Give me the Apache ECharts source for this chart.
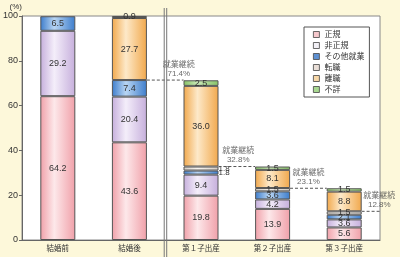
<!DOCTYPE html>
<html><head><meta charset="utf-8">
<script src="https://cdn.jsdelivr.net/npm/echarts@6/dist/echarts.min.js"></script>
<style>html,body{margin:0;padding:0;background:#fdf8da;}#c{width:400px;height:257px;}</style>
</head><body><div id="c"></div>
<script>
const categories = ['結婚前','結婚後','第１子出産','第２子出産','第３子出産'];
const seiki    = [64.2, 43.6, 19.8, 13.9, 5.6];
const hiseiki  = [29.2, 20.4, 9.4, 4.2, 3.6];
const sonota   = [6.5, 7.4, 1.8, 3.6, 2.1];
const tenshoku = [null, null, 1.8, 1.5, 1.5];
const rishoku  = [null, 27.7, 36.0, 8.1, 8.8];
const fusho    = [null, 0.9, 2.5, 1.5, 1.5];
const keizoku  = [71.4, 32.8, 23.1, 12.8];   // 就業継続 (after 結婚後, 第1子, 第2子, 第3子)
const yTicks   = [0, 20, 40, 60, 80, 100];

const chart = echarts.init(document.getElementById('c'), null, {renderer:'canvas'});
const FONT = 'Liberation Sans, Noto Sans CJK JP, sans-serif';
const BARW = 35;
const BAND = 72;
const half = (BARW/2)/BAND;

function grad(edge, mid){
  return new echarts.graphic.LinearGradient(0,0,1,0,[
    {offset:0,color:edge},{offset:0.4,color:mid},{offset:1,color:edge}]);
}
const styles = [
  {name:'正規', data:seiki, color:grad('#f0a0a9','#fde8ea'), icon:'#f6c8cc'},
  {name:'非正規', data:hiseiki, color:grad('#c6afdc','#f4eefa'), icon:'#f2f0f6'},
  {name:'その他就業', data:sonota, color:grad('#3d7dcc','#b8d5f3'), icon:'#5d90d2'},
  {name:'転職', data:tenshoku, color:grad('#d3ccc4','#f7f5f1'), icon:'#eadfd8'},
  {name:'離職', data:rishoku, color:grad('#f1a84c','#fde9c9'), icon:'#f8d8a8'},
  {name:'不詳', data:fusho, color:grad('#86c266','#cbe9b8'), icon:'#a8d890'}
];

const series = styles.map((s, si) => ({
  name: s.name, type:'bar', stack:'a', barWidth:BARW,
  xAxisIndex:0, yAxisIndex:0,
  itemStyle:{color:s.color, borderColor:'#555', borderWidth:1},
  label:{show:true, position:'inside', fontSize:9, color:'#333', fontFamily:FONT,
    formatter: p => p.value == null ? '' : p.value.toFixed(1)},
  data: s.data.map((v, i) => {
    if (v == null) return null;
    if (i === 2 && (si === 2 || si === 3)) {
      return {value:v, label:{position:'right', distance:0, fontSize:8}};
    }
    return v;
  })
}));

// dashed continuation lines, between bar edges (band i spans [i, i+1])
keizoku.forEach((v, k) => {
  const ci = k + 1;
  const x1 = ci + 0.5 + half;
  const x2 = (ci + 1 < categories.length) ? ci + 1.5 - half : ci + 1.11;
  series.push({
    type:'line', xAxisIndex:1, yAxisIndex:0, clip:false, silent:true,
    symbol:'none', lineStyle:{color:'#555', width:1, type:[3,2]},
    data:[[x1, v],[x2, v]]
  });
});
const labelX = [2.19, 3.02, 4.0, 4.99];
series.push({
  type:'scatter', xAxisIndex:1, yAxisIndex:0, clip:false, silent:true,
  symbolSize:0,
  label:{show:true, position:'top', distance:2, fontSize:8, lineHeight:9,
    color:'#444', fontFamily:FONT, align:'center',
    formatter: p => '就業継続\n' + p.value[1].toFixed(1) + '%'},
  data: keizoku.map((v,k) => [labelX[k], v])
});

chart.setOption({
  backgroundColor:'#fdf8da',
  animation:false,
  grid:{left:20, right:20, top:16, bottom:17, show:true, backgroundColor:'#fff', borderColor:'#888', borderWidth:1},
  legend:{
    orient:'vertical', left:304, top:27, width:60,
    padding:[3,5,3,9], itemGap:2, itemWidth:6, itemHeight:6,
    backgroundColor:'#fff', borderColor:'#555', borderWidth:1,
    textStyle:{fontSize:8, color:'#333', fontFamily:FONT, lineHeight:9},
    data: styles.map(s => ({name:s.name, icon:'rect',
      itemStyle:{color:s.icon, borderColor:'#444', borderWidth:0.8}}))
  },
  xAxis:[
    {type:'category', data:categories, boundaryGap:true,
     axisLine:{lineStyle:{color:'#666'}},
     axisTick:{inside:true, length:3, lineStyle:{color:'#666'}},
     axisLabel:{fontSize:7.5, color:'#333', margin:5, fontFamily:FONT}},
    {type:'value', min:0, max:5, show:false}
  ],
  yAxis:{type:'value', min:yTicks[0], max:yTicks[yTicks.length-1], interval:20,
    name:'(%)', nameLocation:'end', nameGap:5,
    nameTextStyle:{fontSize:8, color:'#333', align:'right', verticalAlign:'bottom', fontFamily:FONT},
    axisLine:{show:true, lineStyle:{color:'#666'}},
    axisTick:{show:true, length:3, lineStyle:{color:'#666'}},
    splitLine:{show:false},
    axisLabel:{fontSize:9, color:'#333', margin:4, fontFamily:FONT}},
  series: series
});

// double separator line between 結婚後 and 第1子出産
const px = chart.convertToPixel({xAxisIndex:1}, 2);
chart.setOption({graphic:[
  {type:'line', shape:{x1:px-1, y1:8, x2:px-1, y2:257}, style:{stroke:'#777', lineWidth:1}, z:100},
  {type:'line', shape:{x1:px+1.5, y1:8, x2:px+1.5, y2:257}, style:{stroke:'#777', lineWidth:1}, z:100}
]});
</script></body></html>
